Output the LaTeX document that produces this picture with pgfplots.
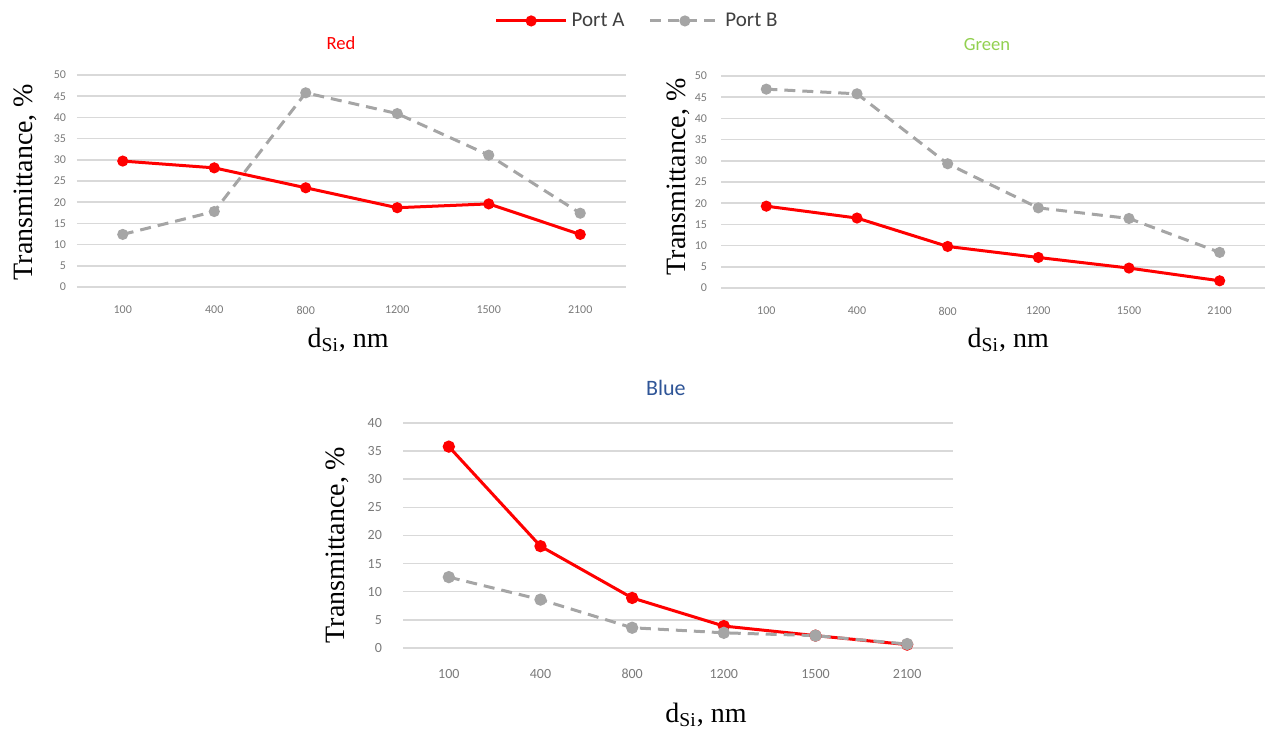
\documentclass[border=0pt]{standalone}
\usepackage{fontspec}
\setmainfont{Carlito}
\newfontfamily\seriffont{Liberation Serif}
\usepackage{pgfplots}
\pgfplotsset{compat=1.18}
\definecolor{pa}{HTML}{FF0000}
\definecolor{pb}{HTML}{A5A5A5}
\definecolor{gridc}{HTML}{D9D9D9}
\definecolor{tickc}{HTML}{7A7A7A}
\definecolor{tgreen}{HTML}{92D050}
\definecolor{tblue}{HTML}{2F5597}
\pgfplotsset{
  every axis title shift=0pt,
  excel/.style={
    scale only axis, clip=false,
    axis line style={draw=none},
    major tick length=0pt,
    ymajorgrids, grid style={gridc, line width=0.75pt},
    xmin=-0.5, xmax=5.5, ymin=0,
    xtick={0,...,5}, xticklabels={100,400,800,1200,1500,2100},
    ytick distance=5,
    /pgf/number format/assume math mode=true,
    tick label style={tickc},
    label style={font=\seriffont\fontsize{14}{16}\selectfont},
    title style={font=\fontsize{9.3}{11}\selectfont, anchor=center, yshift=0pt},
  },
  portA/.style={pa, line width=1.5pt, mark=*, mark size=2pt, mark options={solid, fill=pa, draw=pa}},
  portB/.style={pb, line width=1.5pt, dash pattern=on 5.5pt off 3.5pt, mark=*, mark size=2pt, mark options={solid, fill=pb, draw=pb}},
}
\begin{document}
\begin{tikzpicture}
\useasboundingbox (0,0) rectangle (633pt,364.5pt);
% Red
\begin{axis}[excel,
  at={(38.5pt,221pt)}, anchor=south west,
  width=274.5pt, height=106pt, ymax=50,
  tick label style={font=\fontsize{6}{7}\selectfont},
  xticklabel style={yshift=-6pt},
  yticklabel style={xshift=-2pt},
  title={Red}, title style={pa, at={(axis description cs:0.481,1.15)}},
  ylabel={Transmittance, \%},
  ylabel style={at={(axis description cs:-0.0947,0.495)}, anchor=center},
  xlabel={d\textsubscript{Si}, nm},
  xlabel style={at={(axis description cs:0.494,-0.25)}, anchor=center},
  legend style={at={(rel axis cs:1.022,1.255)}, anchor=center, draw=none, fill=none,
    legend columns=2, font=\fontsize{10.5}{12}\selectfont, text=black!75,
    /tikz/every even column/.append style={column sep=10pt}},
  legend image code/.code={\draw[mark repeat=2, mark phase=2, #1] plot coordinates {(0pt,0pt) (17.5pt,0pt) (35pt,0pt)};},
]
\addplot[portA] coordinates {(0,29.7) (1,28.1) (2,23.4) (3,18.7) (4,19.6) (5,12.4)};
\addlegendentry{Port A}
\addplot[portB] coordinates {(0,12.4) (1,17.8) (2,45.8) (3,40.9) (4,31.1) (5,17.4)};
\addlegendentry{Port B}
\end{axis}
% Green
\begin{axis}[excel,
  at={(360.5pt,220.5pt)}, anchor=south west,
  width=272pt, height=106pt, ymax=50,
  tick label style={font=\fontsize{6}{7}\selectfont},
  xticklabel style={yshift=-6pt},
  yticklabel style={xshift=-3.5pt},
  title={Green}, title style={tgreen, at={(axis description cs:0.489,1.15)}},
  ylabel={Transmittance, \%},
  ylabel style={at={(axis description cs:-0.079,0.524)}, anchor=center},
  xlabel={d\textsubscript{Si}, nm},
  xlabel style={at={(axis description cs:0.528,-0.245)}, anchor=center},
]
\addplot[portA] coordinates {(0,19.3) (1,16.5) (2,9.8) (3,7.2) (4,4.7) (5,1.7)};
\addplot[portB] coordinates {(0,46.9) (1,45.8) (2,29.3) (3,18.9) (4,16.4) (5,8.4)};
\end{axis}
% Blue
\begin{axis}[excel,
  at={(201.5pt,40.5pt)}, anchor=south west,
  width=275pt, height=112.5pt, ymax=40,
  tick label style={font=\fontsize{7}{8}\selectfont},
  xticklabel style={yshift=-7pt},
  yticklabel style={xshift=-7pt},
  title={Blue}, title style={tblue, font=\fontsize{11}{13}\selectfont, at={(axis description cs:0.478,1.156)}},
  ylabel={Transmittance, \%},
  ylabel style={at={(axis description cs:-0.12,0.458)}, anchor=center},
  xlabel={d\textsubscript{Si}, nm},
  xlabel style={at={(axis description cs:0.551,-0.298)}, anchor=center},
]
\addplot[portA, mark size=2.3pt] coordinates {(0,35.8) (1,18.1) (2,8.9) (3,3.9) (4,2.2) (5,0.6)};
\addplot[portB, mark size=2.3pt] coordinates {(0,12.6) (1,8.6) (2,3.6) (3,2.7) (4,2.2) (5,0.7)};
\end{axis}
\end{tikzpicture}
\end{document}
